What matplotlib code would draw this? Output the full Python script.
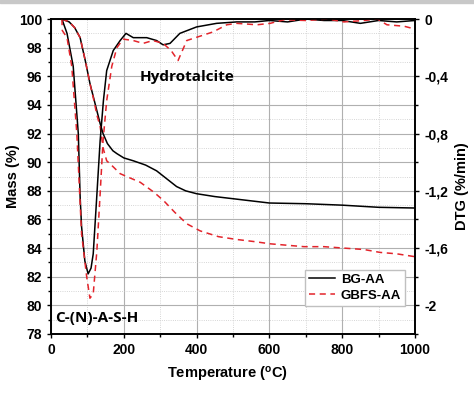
import matplotlib.pyplot as plt
from matplotlib.ticker import MultipleLocator, FuncFormatter
from matplotlib.patches import Rectangle

# TG curves (Mass %)
t_tg_bg = [30, 50, 65, 80, 95, 107, 118, 126, 135, 143, 155, 170, 181, 200, 226, 260, 290, 320, 345,
           370, 400, 450, 500, 550, 600, 700, 800, 900, 1000]
m_bg = [100, 99.8, 99.4, 98.7, 97.0, 95.5, 94.4, 93.6, 92.7, 92.0, 91.3, 90.8, 90.6, 90.3, 90.1, 89.8,
        89.4, 88.8, 88.3, 88.0, 87.8, 87.6, 87.45, 87.3, 87.15, 87.1, 87.0, 86.85, 86.8]

t_tg_gb = [30, 50, 65, 80, 95, 107, 118, 126, 135, 143, 153, 170, 190, 208, 245, 283, 310, 340, 373,
           410, 460, 511, 560, 602, 695, 750, 805, 860, 904, 950, 1000]
m_gb = [100, 99.8, 99.4, 98.7, 97.0, 95.5, 94.3, 93.3, 92.5, 91.0, 90.1, 89.7, 89.2, 89.0, 88.6, 87.9,
        87.3, 86.5, 85.7, 85.2, 84.8, 84.6, 84.45, 84.3, 84.1, 84.1, 84.0, 83.9, 83.7, 83.6, 83.4]

# DTG curves (%/min)
t_dtg_bg = [30, 44, 61, 75, 80, 84, 93, 102, 110, 116, 125, 135, 144, 153, 171, 190, 206, 226, 263,
            290, 308, 327, 354, 400, 455, 510, 560, 600, 650, 700, 750, 800, 850, 900, 950, 1000]
d_bg = [0, -0.1, -0.33, -0.8, -1.24, -1.45, -1.69, -1.78, -1.74, -1.64, -1.27, -0.85, -0.57, -0.36,
        -0.22, -0.15, -0.1, -0.13, -0.13, -0.15, -0.18, -0.17, -0.1, -0.055, -0.03, -0.02, -0.02,
        -0.01, -0.02, 0, -0.01, -0.01, -0.03, -0.01, -0.02, -0.01]

t_dtg_gb = [30, 31, 44, 57, 71, 84, 98, 107, 116, 126, 135, 143, 153, 167, 181, 198, 226, 253, 280,
            308, 330, 349, 373, 409, 445, 483, 510, 566, 602, 640, 700, 760, 805, 860, 897, 923, 970, 1000]
d_gb = [0, -0.08, -0.13, -0.33, -0.8, -1.5, -1.8, -1.95, -1.92, -1.62, -1.22, -0.85, -0.57, -0.33,
        -0.2, -0.14, -0.15, -0.17, -0.15, -0.17, -0.22, -0.29, -0.15, -0.12, -0.09, -0.04, -0.03,
        -0.04, -0.03, -0.005, -0.01, 0, -0.02, -0.01, 0, -0.04, -0.05, -0.07]

RED = '#e3242b'
plt.rcParams['font.family'] = ['Liberation Sans', 'DejaVu Sans']
plt.rcParams['font.weight'] = 'bold'

fig = plt.figure(figsize=(4.74, 3.97), dpi=100)
fig.patches.append(Rectangle((0, 1 - 3 / 397), 1, 3 / 397, transform=fig.transFigure,
                             color='#c8c8c8', zorder=0))
ax = fig.add_axes([0.1076, 0.1587, 0.7679, 0.7933])
ax2 = ax.twinx()

ax.plot(t_tg_bg, m_bg, color='black', lw=1.1)
ax.plot(t_tg_gb, m_gb, color=RED, lw=1.1, ls=(0, (4, 3)))
l1, = ax2.plot(t_dtg_bg, d_bg, color='black', lw=1.1, label='BG-AA')
l2, = ax2.plot(t_dtg_gb, d_gb, color=RED, lw=1.1, ls=(0, (4, 3)), label='GBFS-AA')

ax.set_xlim(0, 1000)
ax.set_ylim(78, 100)
ax2.set_ylim(-2.2, 0)

ax.xaxis.set_major_locator(MultipleLocator(200))
ax.xaxis.set_minor_locator(MultipleLocator(100))
ax.yaxis.set_major_locator(MultipleLocator(2))
ax.yaxis.set_minor_locator(MultipleLocator(1))
ax2.yaxis.set_major_locator(MultipleLocator(0.4))
ax2.yaxis.set_minor_locator(MultipleLocator(0.2))
ax2.yaxis.set_major_formatter(FuncFormatter(lambda v, p: ('%g' % round(v, 1)).replace('.', ',')))

ax.grid(which='major', color='#b0b0b0', lw=0.8)
ax.grid(which='minor', color='#c8c8c8', lw=0.6, ls=':')
ax.set_axisbelow(True)

for a in (ax, ax2):
    a.tick_params(which='major', direction='out', length=3, width=1, labelsize=10)
    a.tick_params(which='minor', direction='out', length=2, width=1)
    for s in a.spines.values():
        s.set_linewidth(1.2)

ax.set_xlabel('Temperature ($\\mathregular{^o}$C)', fontsize=10.5, fontweight='bold')
ax.set_ylabel('Mass (%)', fontsize=10.5, fontweight='bold')
ax2.set_ylabel('DTG (%/min)', fontsize=10.5, fontweight='bold')
ax.xaxis.set_label_coords(0.485, -0.098)
ax.yaxis.set_label_coords(-0.085, 0.5)
ax2.yaxis.set_label_coords(1.11, 0.47)

ax.text(243, 95.65, 'Hydrotalcite', fontsize=11, fontweight='bold', family='Open Sans')
ax.text(11, 78.85, 'C-(N)-A-S-H', fontsize=11, fontweight='bold', family='Open Sans')

ax2.legend(handles=[l1, l2], loc='lower right', bbox_to_anchor=(0.9725, 0.089), fontsize=9.5,
           frameon=True, fancybox=False, edgecolor='#c0c0c0', framealpha=1,
           handlelength=2.0, borderpad=0.3, labelspacing=0.3, handletextpad=0.4,
           borderaxespad=0)

fig.savefig('out.png', dpi=100)
